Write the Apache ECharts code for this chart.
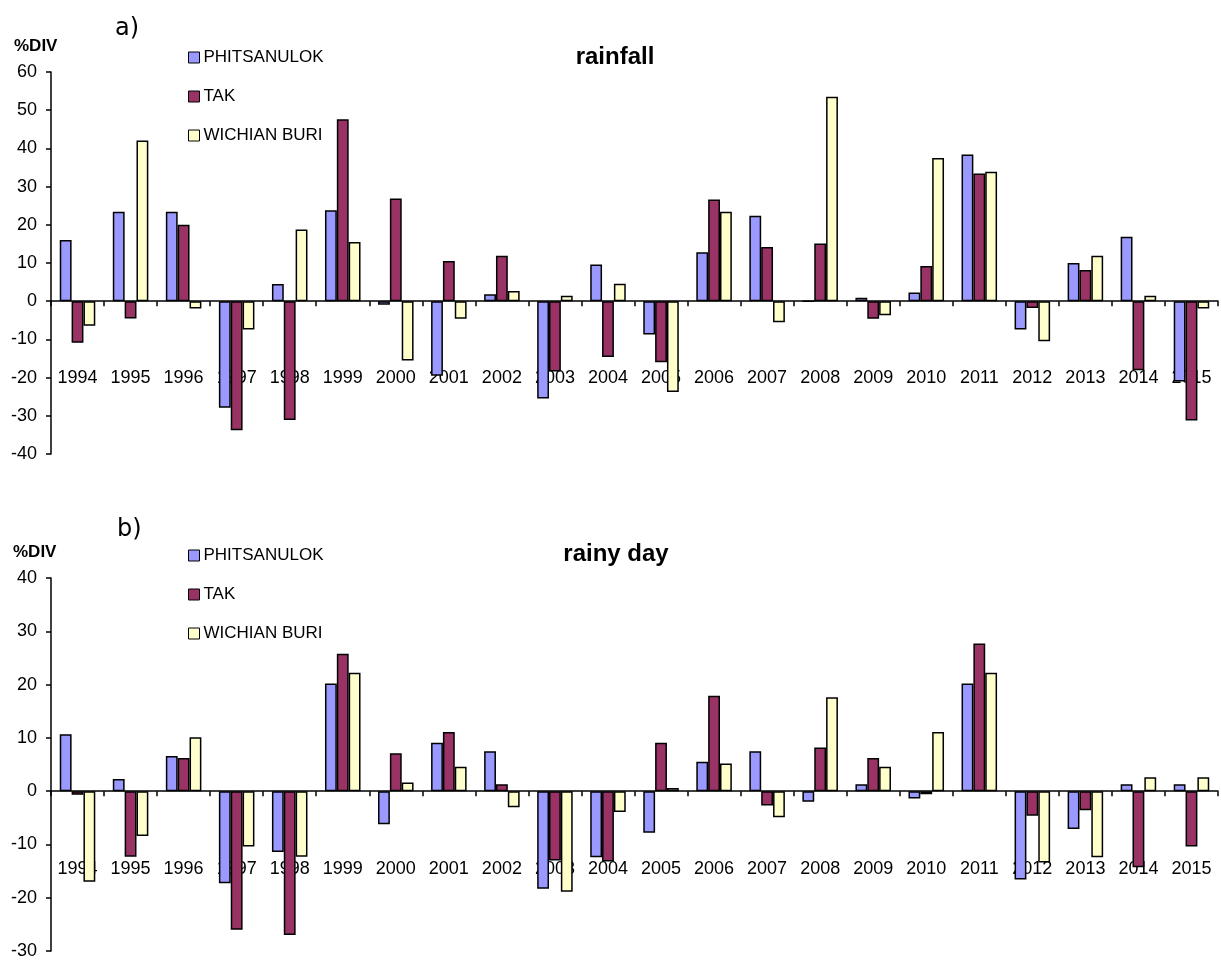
<!DOCTYPE html>
<html>
<head>
<meta charset="utf-8">
<script src="https://cdn.jsdelivr.net/npm/echarts@6/dist/echarts.min.js"></script>
<style>
html,body{margin:0;padding:0;background:#fff;}
#chart{width:1221px;height:960px;}
</style>
</head>
<body>
<div id="chart"></div>
<script>
var years = ['1994','1995','1996','1997','1998','1999','2000','2001','2002','2003','2004','2005','2006','2007','2008','2009','2010','2011','2012','2013','2014','2015'];
var seriesNames = ['PHITSANULOK','TAK','WICHIAN BURI'];

var rainPhitsanulok = [16, 23.4, 23.4, -27.9, 4.5, 23.8, -0.9, -19.5, 1.8, -25.5, 9.6, -8.7, 12.8, 22.4, 0, 0.9, 2.3, 38.4, -7.4, 10.0, 16.9, -21];
var rainTak = [-10.9, -4.5, 20, -33.8, -31.1, 47.6, 26.9, 10.5, 11.9, -18.4, -14.6, -16.0, 26.6, 14.2, 15.1, -4.6, 9.2, 33.4, -1.8, 8.2, -18.1, -31.2];
var rainWichian = [-6.4, 42.1, -1.9, -7.4, 18.8, 15.5, -15.5, -4.6, 2.7, 1.4, 4.6, -23.8, 23.4, -5.5, 53.5, -3.7, 37.5, 33.9, -10.5, 11.9, 1.4, -1.9];

var dayPhitsanulok = [10.7, 2.3, 6.6, -17.3, -11.4, 20.2, -6.2, 9.1, 7.5, -18.3, -12.4, -7.8, 5.5, 7.5, -2.0, 1.3, -1.4, 20.2, -16.6, -7.1, 1.3, 1.3];
var dayTak = [-0.7, -12.3, 6.2, -26.0, -27.0, 25.8, 7.1, 11.1, 1.3, -13.0, -13.2, 9.1, 17.9, -2.7, 8.2, 6.2, -0.6, 27.7, -4.6, -3.6, -14.3, -10.4];
var dayWichian = [-17.0, -8.4, 10.1, -10.4, -12.3, 22.2, 1.6, 4.6, -3.0, -18.9, -3.9, 0.6, 5.2, -4.9, 17.6, 4.6, 11.1, 22.2, -13.4, -12.4, 2.6, 2.6];

var colors = ['#9999FF', '#993366', '#FFFFCC'];
var FONT = 'Liberation Sans';

function xAxis(gi, labelMargin){
  return {
    type:'category', gridIndex:gi, data:years,
    axisLine:{onZero:true, lineStyle:{color:'#000', width:1.5}},
    axisTick:{show:true, length:5, lineStyle:{color:'#000', width:1.5}},
    axisLabel:{margin:labelMargin, color:'#000', fontFamily:FONT, fontSize:18},
    splitLine:{show:false}
  };
}
function yAxis(gi, mn, mx){
  return {
    type:'value', gridIndex:gi, min:mn, max:mx, interval:10,
    axisLine:{show:true, lineStyle:{color:'#000', width:1.5}},
    axisTick:{show:true, length:5, lineStyle:{color:'#000', width:1.5}},
    axisLabel:{margin:14, color:'#000', fontFamily:FONT, fontSize:18},
    splitLine:{show:false}
  };
}
function bar(name, data, gi, ci){
  return {
    type:'bar', name:name, data:data, xAxisIndex:gi, yAxisIndex:gi,
    barGap:'0%', barCategoryGap:'33%',
    itemStyle:{color:colors[ci], borderColor:'#000', borderWidth:1.5},
    emphasis:{disabled:true}
  };
}
function legend(top){
  return {
    orient:'vertical', left:183, top:top, itemWidth:11, itemHeight:11, itemGap:22,
    icon:'rect', data:seriesNames,
    itemStyle:{borderColor:'#000', borderWidth:1},
    textStyle:{fontFamily:FONT, fontSize:17, color:'#000', padding:[0,0,0,-1]}
  };
}

var chart = echarts.init(document.getElementById('chart'));
chart.setOption({
  animation:false,
  backgroundColor:'#fff',
  color:colors,
  title:[
    {text:'a)', left:110, top:12, textStyle:{fontFamily:'DejaVu Sans', fontWeight:'normal', fontSize:24, color:'#000'}},
    {text:'%DIV', left:9, top:33, textStyle:{fontFamily:FONT, fontWeight:'bold', fontSize:17, color:'#000'}},
    {text:'rainfall', left:610, top:40, textAlign:'center', textStyle:{fontFamily:FONT, fontWeight:'bold', fontSize:24, color:'#000'}},
    {text:'b)', left:112, top:513, textStyle:{fontFamily:'DejaVu Sans', fontWeight:'normal', fontSize:24, color:'#000'}},
    {text:'%DIV', left:8, top:539, textStyle:{fontFamily:FONT, fontWeight:'bold', fontSize:17, color:'#000'}},
    {text:'rainy day', left:611, top:537, textAlign:'center', textStyle:{fontFamily:FONT, fontWeight:'bold', fontSize:24, color:'#000'}}
  ],
  legend:[legend(44), legend(542)],
  grid:[
    {left:51, right:3, top:72, height:382},
    {left:51, right:3, top:578, height:376}
  ],
  xAxis:[xAxis(0, -85), xAxis(1, -91)],
  yAxis:[yAxis(0,-40,60), yAxis(1,-30,40)],
  series:[
    bar('PHITSANULOK', rainPhitsanulok, 0, 0),
    bar('TAK', rainTak, 0, 1),
    bar('WICHIAN BURI', rainWichian, 0, 2),
    bar('PHITSANULOK', dayPhitsanulok, 1, 0),
    bar('TAK', dayTak, 1, 1),
    bar('WICHIAN BURI', dayWichian, 1, 2)
  ]
});
</script>
</body>
</html>
